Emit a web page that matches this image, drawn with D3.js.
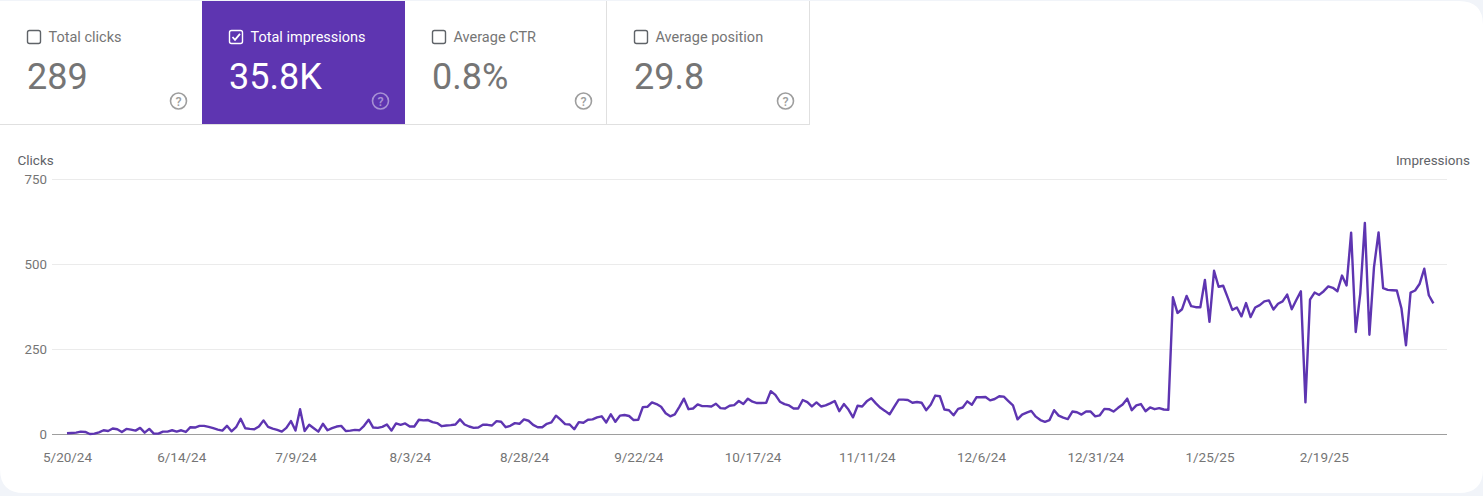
<!DOCTYPE html>
<html>
<head>
<meta charset="utf-8">
<script src="https://cdn.jsdelivr.net/npm/d3@7"></script>
<style>
  html, body { margin: 0; padding: 0; background: #f1f4f9; overflow: hidden; }
  svg { display: block; font-family: Roboto, sans-serif; }
</style>
</head>
<body>
<svg id="chart" width="1483" height="496"></svg>
<script>
// data
const metricLabels = ["Total clicks", "Total impressions", "Average CTR", "Average position"];
const metricValues = ["289", "35.8K", "0.8%", "29.8"];
const metricSelected = [false, true, false, false];

const startDate = "5/20/24";
const xTickLabels = ["5/20/24", "6/14/24", "7/9/24", "8/3/24", "8/28/24", "9/22/24", "10/17/24",
  "11/11/24", "12/6/24", "12/31/24", "1/25/25", "2/19/25"];
const yTicks = [0, 250, 500, 750];

// one value per day
const impressions = [
  2, 3, 4, 7, 6, 0, 1, 5, 11, 9,
  16, 14, 6, 15, 13, 10, 18, 4, 15, 1,
  1, 7, 7, 11, 7, 11, 6, 20, 19, 24,
  24, 21, 17, 13, 10, 24, 8, 20, 45, 17,
  15, 14, 22, 40, 21, 16, 12, 7, 18, 38,
  10, 73, 9, 27, 17, 7, 30, 11, 17, 22,
  24, 9, 10, 12, 11, 24, 42, 19, 18, 21,
  28, 10, 31, 27, 31, 22, 22, 42, 40, 41,
  35, 32, 23, 25, 26, 28, 43, 28, 22, 18,
  19, 27, 27, 25, 38, 36, 20, 24, 32, 30,
  43, 39, 27, 20, 20, 30, 34, 54, 42, 29,
  28, 14, 35, 33, 42, 43, 49, 52, 34, 58,
  36, 54, 56, 53, 41, 42, 79, 80, 93, 88,
  80, 61, 52, 58, 80, 104, 73, 75, 87, 82,
  82, 81, 89, 76, 75, 83, 85, 97, 88, 104,
  95, 91, 91, 92, 126, 115, 95, 88, 84, 75,
  75, 100, 94, 81, 93, 81, 84, 90, 97, 67,
  88, 72, 49, 83, 81, 96, 105, 90, 77, 68,
  58, 80, 101, 101, 100, 92, 94, 92, 70, 86,
  113, 111, 72, 70, 55, 74, 78, 96, 86, 108,
  108, 109, 99, 103, 111, 110, 97, 84, 43, 57,
  63, 68, 51, 41, 36, 41, 70, 54, 48, 44,
  66, 64, 57, 66, 66, 52, 55, 74, 73, 66,
  77, 87, 104, 70, 84, 88, 67, 78, 73, 76,
  72, 71, 402, 356, 367, 406, 376, 373, 373, 453,
  330, 480, 433, 436, 401, 365, 372, 346, 385, 344,
  372, 379, 390, 393, 366, 383, 390, 410, 367, 394,
  420, 93, 395, 416, 409, 420, 434, 430, 420, 466,
  437, 592, 300, 413, 621, 292, 491, 593, 429, 424,
  423, 422, 370, 261, 416, 422, 442, 486, 408, 384
];

const purple = "#5e35b1";
const gray = "#757575";
const svg = d3.select("#chart");

// card
svg.append("rect").attr("x", -30).attr("y", 1).attr("width", 1543).attr("height", 492)
  .attr("rx", 0).attr("fill", "#fff");
svg.append("path")
  .attr("d", "M0,1H24Q0,1 0,25ZM1483,1H1459Q1483,1 1483,25ZM0,493H24Q0,493 0,469ZM1483,493H1459Q1483,493 1483,469Z")
  .attr("fill", "#f1f4f9");

// metric tiles
const tileX = d3.scaleBand().domain(metricLabels).range([0, 810]);
const tiles = svg.selectAll("g.tile").data(metricLabels).enter().append("g")
  .attr("class", "tile")
  .attr("transform", d => `translate(${Math.floor(tileX(d))},1)`);

tiles.append("rect")
  .attr("width", Math.ceil(tileX.bandwidth()))
  .attr("height", 124)
  .attr("fill", (d, i) => metricSelected[i] ? purple : "#fff");

svg.append("line").attr("x1", 0).attr("x2", 810).attr("y1", 124.5).attr("y2", 124.5)
  .attr("stroke", "#e0e0e0");
svg.selectAll("line.sep").data(metricLabels.slice(2)).enter().append("line")
  .attr("class", "sep")
  .attr("x1", d => Math.floor(tileX(d) + tileX.bandwidth()) - 0.5)
  .attr("x2", d => Math.floor(tileX(d) + tileX.bandwidth()) - 0.5)
  .attr("y1", 1).attr("y2", 125)
  .attr("stroke", "#e0e0e0");

const fg = i => metricSelected[i] ? "#fff" : gray;

tiles.append("rect")
  .attr("x", 27.5).attr("y", 29.5).attr("width", 13).attr("height", 13).attr("rx", 2)
  .attr("fill", "none")
  .attr("stroke", (d, i) => metricSelected[i] ? "#fff" : "#5f6368")
  .attr("stroke-width", 1.4);

tiles.filter((d, i) => metricSelected[i]).append("path")
  .attr("d", "M30.5,36 L33,38.8 L38,32.8")
  .attr("fill", "none").attr("stroke", "#fff").attr("stroke-width", 1.8);

tiles.append("text")
  .attr("x", 48.5).attr("y", 41)
  .attr("font-size", 14.5)
  .attr("fill", (d, i) => fg(i))
  .text(d => d);

tiles.append("text")
  .attr("x", 27).attr("y", 88)
  .attr("font-size", 36)
  .attr("fill", (d, i) => fg(i))
  .text((d, i) => metricValues[i]);

const help = tiles.append("g").attr("transform", "translate(178.5,100)")
  .attr("opacity", (d, i) => metricSelected[i] ? 0.45 : 1);
help.append("circle").attr("r", 8).attr("fill", "none")
  .attr("stroke", (d, i) => metricSelected[i] ? "#fff" : "#9e9e9e").attr("stroke-width", 1.6);
help.append("text")
  .attr("text-anchor", "middle").attr("y", 4.5)
  .attr("font-size", 12.5).attr("font-weight", 500)
  .attr("fill", (d, i) => metricSelected[i] ? "#fff" : "#9e9e9e")
  .text("?");

// scales
const parseDate = d3.timeParse("%m/%d/%y");
const formatDate = d3.timeFormat("%-m/%-d/%y");
const dates = impressions.map((d, i) => d3.timeDay.offset(parseDate(startDate), i));

const x = d3.scaleTime().domain(d3.extent(dates)).range([67, 1433.4]);
const y = d3.scaleLinear().domain([0, 750]).range([434, 179]);

// left axis, ticks drawn as the grid
const yAxis = svg.append("g")
  .attr("transform", "translate(52,0)")
  .call(d3.axisLeft(y).tickValues(yTicks).tickSize(-1395).tickPadding(5));
yAxis.select(".domain").remove();
yAxis.selectAll(".tick line").attr("stroke", d => d === 0 ? "#9e9e9e" : "#ebebeb");
yAxis.selectAll(".tick text").attr("fill", gray)
  .attr("font-family", "Roboto, sans-serif").attr("font-size", 13.3);

// bottom axis, labels only
const xAxis = svg.append("g")
  .attr("transform", "translate(0,434)")
  .call(d3.axisBottom(x)
    .tickValues(xTickLabels.map(parseDate))
    .tickFormat(formatDate)
    .tickSize(0)
    .tickPadding(18));
xAxis.select(".domain").remove();
xAxis.selectAll(".tick text").attr("fill", gray)
  .attr("font-family", "Roboto, sans-serif").attr("font-size", 13.5);

// axis titles
svg.append("text").attr("x", 17.5).attr("y", 165).attr("font-size", 13.5)
  .attr("fill", "#5f6368").text("Clicks");
svg.append("text").attr("x", 1470).attr("y", 165).attr("font-size", 13.5).attr("text-anchor", "end")
  .attr("fill", "#5f6368").text("Impressions");

// impressions line
const line = d3.line().x((d, i) => x(dates[i])).y(d => y(d));
svg.append("path")
  .datum(impressions)
  .attr("d", line)
  .attr("fill", "none")
  .attr("stroke", purple)
  .attr("stroke-width", 2.4)
  .attr("stroke-linejoin", "round");
</script>
</body>
</html>
